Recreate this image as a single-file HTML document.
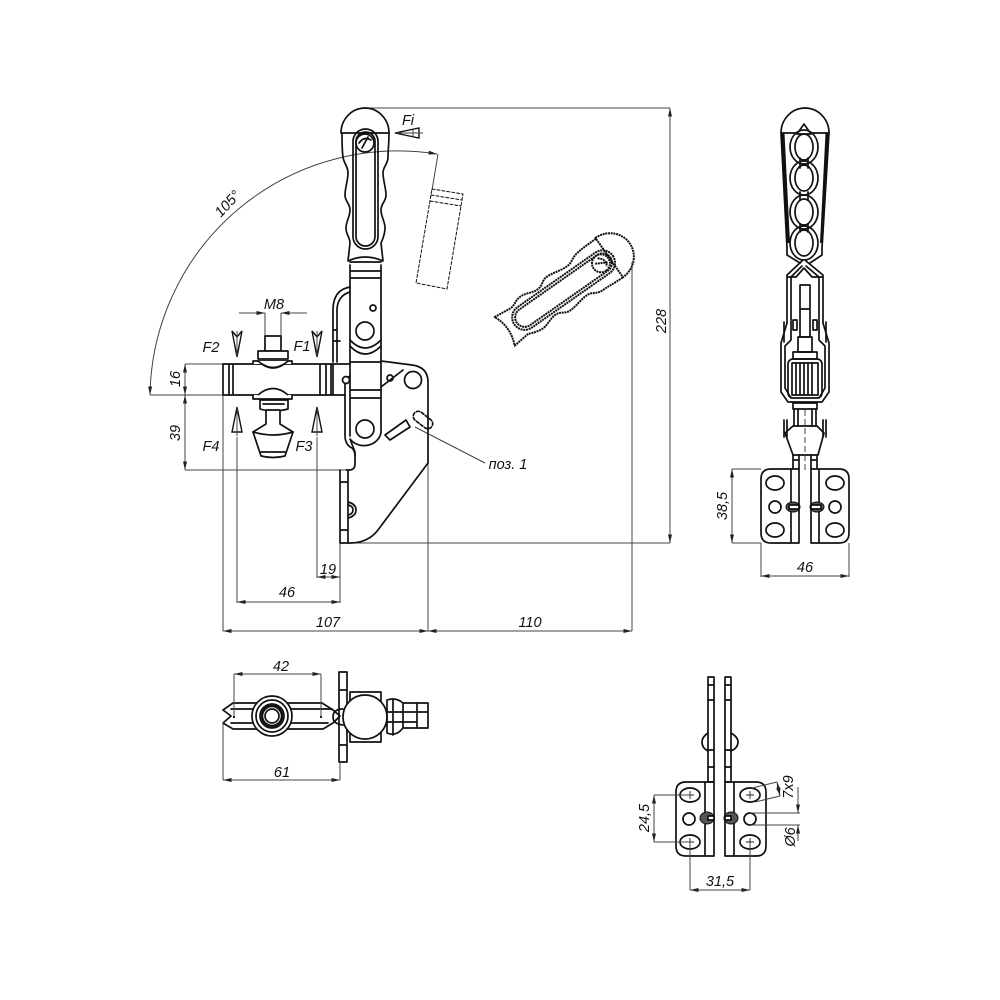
<!DOCTYPE html>
<html><head><meta charset="utf-8"><style>
html,body{margin:0;padding:0;background:#fff}
svg{display:block}
text{font-family:"Liberation Sans",sans-serif;font-style:italic;font-size:14.5px;fill:#111;text-anchor:middle}
.m{fill:none;stroke:#111;stroke-width:1.7;stroke-linejoin:round;stroke-linecap:round}
.w{fill:#fff;stroke:#111;stroke-width:1.7;stroke-linejoin:round}
.t{fill:none;stroke:#111;stroke-width:2.4}
.d{fill:none;stroke:#444;stroke-width:1}
.a{fill:#222;stroke:none}
.f{fill:#fff;stroke:#111;stroke-width:1.4}
</style></head><body>
<svg xmlns="http://www.w3.org/2000/svg" width="1000" height="1000" viewBox="0 0 1000 1000">
<defs>
<marker id="e" markerWidth="9" markerHeight="6" refX="8.5" refY="3" orient="auto-start-reverse" markerUnits="userSpaceOnUse"><path d="M0 1 L8.5 3 L0 5Z" fill="#222"/></marker>
<g id="h">
<path d="M341 133 A24 25 0 0 1 389 133Z"/>
<path d="M342 133 C342 145 342 150 343 157 S348 166 348 173 S345 188 345 195 S350 203 350 210 S346 221 346 228 S350 237 350 243 L348 261 Q365 253 383 261 L381 243 S385 235 385 228 S381 217 381 210 S386 202 386 195 S383 180 383 173 S388 165 388 157 S389 145 389 133"/>
<rect x="353" y="129" width="25" height="120" rx="12.5"/>
<rect x="356" y="132" width="19" height="114" rx="9.5"/>
<circle cx="365" cy="143" r="9"/>
<path d="M359 143 q5 -7 12 -3 M362 148 l6 -11"/>
</g>
</defs>

<!-- dims: main view -->
<g class="d">
<path d="M370 108H670 M348 543H670" />
<path d="M670 108V543" marker-start="url(#e)" marker-end="url(#e)"/>
<path d="M632 262V631 M428 463V631 M223 395V631 M340 543V603 M237 437V603 M317 437V578"/>
<path d="M223 631H428" marker-start="url(#e)" marker-end="url(#e)"/>
<path d="M428 631H632" marker-start="url(#e)" marker-end="url(#e)"/>
<path d="M237 602H340" marker-start="url(#e)" marker-end="url(#e)"/>
<path d="M317 577H340" marker-start="url(#e)" marker-end="url(#e)"/>
<path d="M185 364H223 M150 395H223 M185 470H352"/>
<path d="M185 364V395" marker-start="url(#e)" marker-end="url(#e)"/>
<path d="M185 395V470" marker-start="url(#e)" marker-end="url(#e)"/>
<path d="M239 313H265" marker-end="url(#e)"/>
<path d="M307 313H281" marker-end="url(#e)"/>
<path d="M265 313V336 M281 313V336"/>
<path d="M150 395 A248 248 0 0 1 437 154" marker-start="url(#e)" marker-end="url(#e)"/>
<path d="M438 154L432 190"/>
<path d="M415 427L485 463"/>
</g>

<!-- vertical handle -->
<use href="#h" class="m"/>

<!-- arm -->
<path class="m" d="M350 262H381 M350 271H381 M350 278H381 M350 265V362 M381 265V361"/>
<circle class="m" cx="373" cy="308" r="3"/>
<path class="m" d="M350 287 C338 289 333 297 333 310 V362 M350 292 C342 294 337 301 337 310 V362 M333 330H337 M333 341H340"/>
<circle class="m" cx="365" cy="331" r="9"/>
<path class="m" d="M350 340 Q365 356 381 340 M350 346 Q365 362 381 346"/>
<!-- base plate -->
<path class="m" d="M381 361L412 365 Q428 367 428 382 V463 L378 530 Q368 543 350 543 H340 V470 M348 470V543 M340 482H348 M340 530H348"/>
<path class="m" d="M381 387L403 370"/>
<circle class="m" cx="413" cy="380" r="8.5"/>
<circle class="m" cx="390" cy="378" r="3"/>
<path class="m" d="M348 502 q8 2 8 8 q0 6 -8 8 M348 505 q5 1 5 5 q0 4 -5 5"/>
<!-- lower arm -->
<path class="w" d="M345 395 L345 382 Q346 378 350 376 V362 H381 V429 A17 15 0 0 1 350 439 L355 452 V464 Q355 470 349 470 H346"/>
<path class="m" d="M345 395V435 Q345 445 352 448 Q355 451 355 456 M350 376V436 M350 390H381 M350 398H381"/>
<circle class="m" cx="365" cy="429" r="9"/>
<circle class="w" cx="346" cy="380" r="3.5"/>
<path class="m" d="M385 435L406 420 L410 427 L390 440Z"/>
<rect class="m" style="stroke-dasharray:3 2" x="-11" y="-5" width="22" height="10" rx="5" transform="translate(423 420) rotate(38)"/>

<!-- clamp bar -->
<path class="m" d="M223 364H350 M223 395H345 M223 364V395 M229 364V395 M233 364V395 M320 364V395 M326 364V395 M331 364V395 M333 364V395"/>
<rect class="w" x="265" y="336" width="16" height="15"/>
<rect class="w" x="258" y="351" width="30" height="8"/>
<path class="w" d="M253 364V361H292V364"/>
<path class="w" d="M258 361 Q273 375 288 361"/>
<path class="m" d="M262 364 Q273 371 284 364"/>
<path class="w" d="M253 395V399H292V395"/>
<path class="w" d="M258 395 Q273 382 288 395"/>
<path class="w" d="M260 400H288V409Q273 413 260 409Z"/>
<path class="m" d="M263 404H284"/>
<path class="w" d="M266 410H280V424L293 432 L285 456 Q273 459 261 456 L253 432 L266 424Z"/>
<path class="m" d="M253 432Q273 438 293 432 M261 452H285"/>

<!-- F arrows -->
<path class="f" d="M232 331L237 357 L242 331 L237 337Z"/><path class="d" d="M237 331V357"/>
<path class="f" d="M312 331L317 357 L322 331 L317 337Z"/><path class="d" d="M317 331V357"/>
<path class="f" d="M232 432L237 407 L242 432Z"/><path class="d" d="M237 407V436"/>
<path class="f" d="M312 432L317 407 L322 432Z"/><path class="d" d="M317 407V436"/>
<path class="f" d="M395 133L419 128 L419 138Z"/><path class="d" d="M396 133H423 M413 129V137"/>

<!-- dashed handle -->
<path class="m" style="stroke-width:1;stroke-dasharray:3 2" d="M432 189L463 194 L447 289 L416 283Z M431 195L462 200 M430 201L461 206"/>

<!-- rotated handle -->
<g transform="translate(610 257) rotate(55) translate(-365 -132)">
<use href="#h" class="m" style="stroke-width:2;stroke-dasharray:2 .7;stroke-linecap:butt"/>
</g>

<!-- labels main -->
<text x="274" y="309">M8</text>
<text x="408" y="125">Fi</text>
<text x="211" y="352">F2</text>
<text x="302" y="351">F1</text>
<text x="211" y="451">F4</text>
<text x="304" y="451">F3</text>
<text x="0" y="0" transform="translate(231 207) rotate(-47)">105°</text>
<text x="0" y="0" transform="translate(180 379) rotate(-90)">16</text>
<text x="0" y="0" transform="translate(180 433) rotate(-90)">39</text>
<text x="0" y="0" transform="translate(666 321) rotate(-90)">228</text>
<text x="508" y="469">поз. 1</text>
<text x="328" y="574">19</text>
<text x="287" y="597">46</text>
<text x="328" y="627">107</text>
<text x="530" y="627">110</text>

<!-- right view -->
<path class="m" d="M781 133 A24 25 0 0 1 829 133Z"/>
<path class="m" d="M781 133L787 248 V255 L800 263 M829 133L822 248 V255 L810 263"/>
<path d="M781 133L784.500 133 L790 243 L787 243Z M829 133L825.500 133 L820 243 L823 243Z" fill="#111"/>
<path class="w" d="M804 124L797 134 L811 134Z"/>
<g class="m">
<ellipse cx="804" cy="147" rx="14" ry="17"/><ellipse cx="804" cy="147" rx="9" ry="13"/>
<ellipse cx="804" cy="178" rx="14" ry="17"/><ellipse cx="804" cy="178" rx="9" ry="13"/>
<ellipse cx="804" cy="212" rx="14" ry="17"/><ellipse cx="804" cy="212" rx="9" ry="13"/>
<ellipse cx="804" cy="243" rx="14" ry="17"/><ellipse cx="804" cy="243" rx="9" ry="13"/>
<path d="M800 158V168 M808 158V168 M800 192V200 M808 192V200 M800 224V232 M808 224V232"/>
<path d="M802 261L787 275 V323 M806 261L823 275 V323 M802 266L791 277 V320 M806 266L819 277 V320 M787 277H796 M823 277H812 M796 277L804 268 L812 277"/>
<path d="M800 285H810V337H800Z M800 309H810"/>
<path d="M793 320H797V330H793Z M813 320H817V330H813Z M784 322V342 M826 322V342"/>
<path d="M787 323L781 343 V392 L788 402 H822 L829 392 V343 L823 323"/>
<path d="M791 321V340 L785 346 V388 L791 398 M819 321V340 L825 346 V388 L819 398"/>
<rect x="798" y="337" width="14" height="15"/>
<rect x="793" y="352" width="24" height="7"/>
<rect x="788" y="359" width="34" height="39" rx="5"/>
<rect x="792" y="363" width="26" height="32"/>
<path d="M796 363V395 M800 363V395 M804 363V395 M808 363V395 M812 363V395"/>
<rect x="793" y="403" width="24" height="6"/>
<path d="M794 409V426 M798 409V426 M812 409V426 M816 409V426 M784 420V437 M787 420V437 M826 420V437 M823 420V437"/>
<path d="M793 426H817 L824 433 L818 455 H793 L785 433Z"/>
<path d="M793 455V468 M799 455V468 M811 455V468 M817 455V468 M793 460H799 M811 460H817"/>
<path d="M799 468V543 H771 Q761 543 761 533 V479 Q761 469 771 469 H799 M811 468V543 H839 Q849 543 849 533 V479 Q849 469 839 469 H811 M791 469V543 M819 469V543"/>
<ellipse cx="775" cy="483" rx="9" ry="7"/><ellipse cx="775" cy="530" rx="9" ry="7"/><circle cx="775" cy="507" r="6"/>
<ellipse cx="835" cy="483" rx="9" ry="7"/><ellipse cx="835" cy="530" rx="9" ry="7"/><circle cx="835" cy="507" r="6"/>
</g>
<ellipse cx="793" cy="507" rx="7" ry="5" fill="#555" stroke="#111"/><ellipse cx="817" cy="507" rx="7" ry="5" fill="#555" stroke="#111"/>
<path class="m" style="fill:#fff" d="M789 505H799V509H789Z M811 505H821V509H811Z"/>
<path class="d" d="M805 410V470" style="stroke-dasharray:6 3"/>
<g class="d">
<path d="M732 469H761 M732 543H761 M761 543V577 M849 543V577"/>
<path d="M732 469V543" marker-start="url(#e)" marker-end="url(#e)"/>
<path d="M761 576H849" marker-start="url(#e)" marker-end="url(#e)"/>
</g>
<text x="0" y="0" transform="translate(727 506) rotate(-90)">38,5</text>
<text x="805" y="572">46</text>

<!-- bottom left view -->
<g class="m">
<path d="M339 672H347V762H339Z M339 690H347 M339 745H347"/>
<path d="M223 710L233 703H322L333 710 L340 716 L333 723 L323 729 H233 L223 723 L231 716Z"/>
<path d="M231 709H332 M231 723H328"/>
<rect x="350" y="692" width="31" height="50"/>
<path d="M343 709 q-10 0 -10 8 q0 7 10 8"/>
</g>
<circle class="w" cx="272" cy="716" r="20"/>
<g class="m"><circle cx="272" cy="716" r="16"/><circle cx="272" cy="716" r="12"/></g>
<circle cx="272" cy="716" r="10" fill="none" stroke="#111" stroke-width="2.5"/>
<circle class="w" cx="272" cy="716" r="7"/>
<path class="w" d="M387 700 Q396 697 403 703 H428 V728 H403 Q396 737 387 733Z"/>
<path class="m" d="M387 712H417 M387 722H417 M417 703V728 M403 703V728 M393 699V735 M417 712H428"/>
<circle class="w" cx="365" cy="717" r="22"/>
<path class="a" d="M233 716h2v2h-2z M320 716h2v2h-2z"/>
<g class="d">
<path d="M234 674V716 M321 674V716 M223 722V780 M340 762V780"/>
<path d="M234 674H321" marker-start="url(#e)" marker-end="url(#e)"/>
<path d="M223 780H340" marker-start="url(#e)" marker-end="url(#e)"/>
</g>
<text x="281" y="671">42</text>
<text x="282" y="777">61</text>

<!-- bottom right view -->
<g class="m">
<path d="M708 733 q-6 4 -6 9 q0 6 6 9 M731 733 q7 4 7 9 q0 6 -7 9"/>
<rect x="708" y="677" width="6" height="105"/>
<rect x="725" y="677" width="6" height="105"/>
<path d="M708 685H714 M708 700H714 M725 685H731 M725 700H731 M708 750H714 M708 767H714 M725 750H731 M725 767H731"/>
<path d="M714 782H686 Q676 782 676 792 V846 Q676 856 686 856 H714Z M725 782H756 Q766 782 766 792 V846 Q766 856 756 856 H725Z M705 782V856 M734 782V856"/>
<ellipse cx="690" cy="795" rx="10" ry="7"/><ellipse cx="690" cy="842" rx="10" ry="7"/><circle cx="689" cy="819" r="6"/>
<ellipse cx="750" cy="795" rx="10" ry="7"/><ellipse cx="750" cy="842" rx="10" ry="7"/><circle cx="750" cy="819" r="6"/>
</g>
<path d="M686 795h8M690 791v8 M686 842h8M690 838v8 M746 795h8M750 791v8 M746 842h8M750 838v8" stroke="#222" stroke-width=".9"/>
<ellipse cx="707" cy="818" rx="7" ry="6" fill="#555" stroke="#111"/><ellipse cx="731" cy="818" rx="7" ry="6" fill="#555" stroke="#111"/>
<path class="m" style="fill:#fff" d="M708 816H714V820H708Z M725 816H731V820H725Z"/>
<g class="d">
<path d="M654 795H690 M654 842H690 M690 842V890 M750 842V890"/>
<path d="M654 795V842" marker-start="url(#e)" marker-end="url(#e)"/>
<path d="M690 890H750" marker-start="url(#e)" marker-end="url(#e)"/>
<path d="M752 788L777 782 M755 802L780 796"/>
<path d="M777 782L780 796" marker-start="url(#e)" marker-end="url(#e)"/>
<path d="M750 813H800 M750 825H800"/>
<path d="M798 787V813" marker-end="url(#e)"/>
<path d="M798 841V825" marker-end="url(#e)"/>
</g>
<text x="0" y="0" transform="translate(649 818) rotate(-90)">24,5</text>
<text x="720" y="886">31,5</text>
<text x="0" y="0" transform="translate(793 787) rotate(-90)">7x9</text>
<text x="0" y="0" transform="translate(795 837) rotate(-90)">Ø6</text>
</svg>
</body></html>
